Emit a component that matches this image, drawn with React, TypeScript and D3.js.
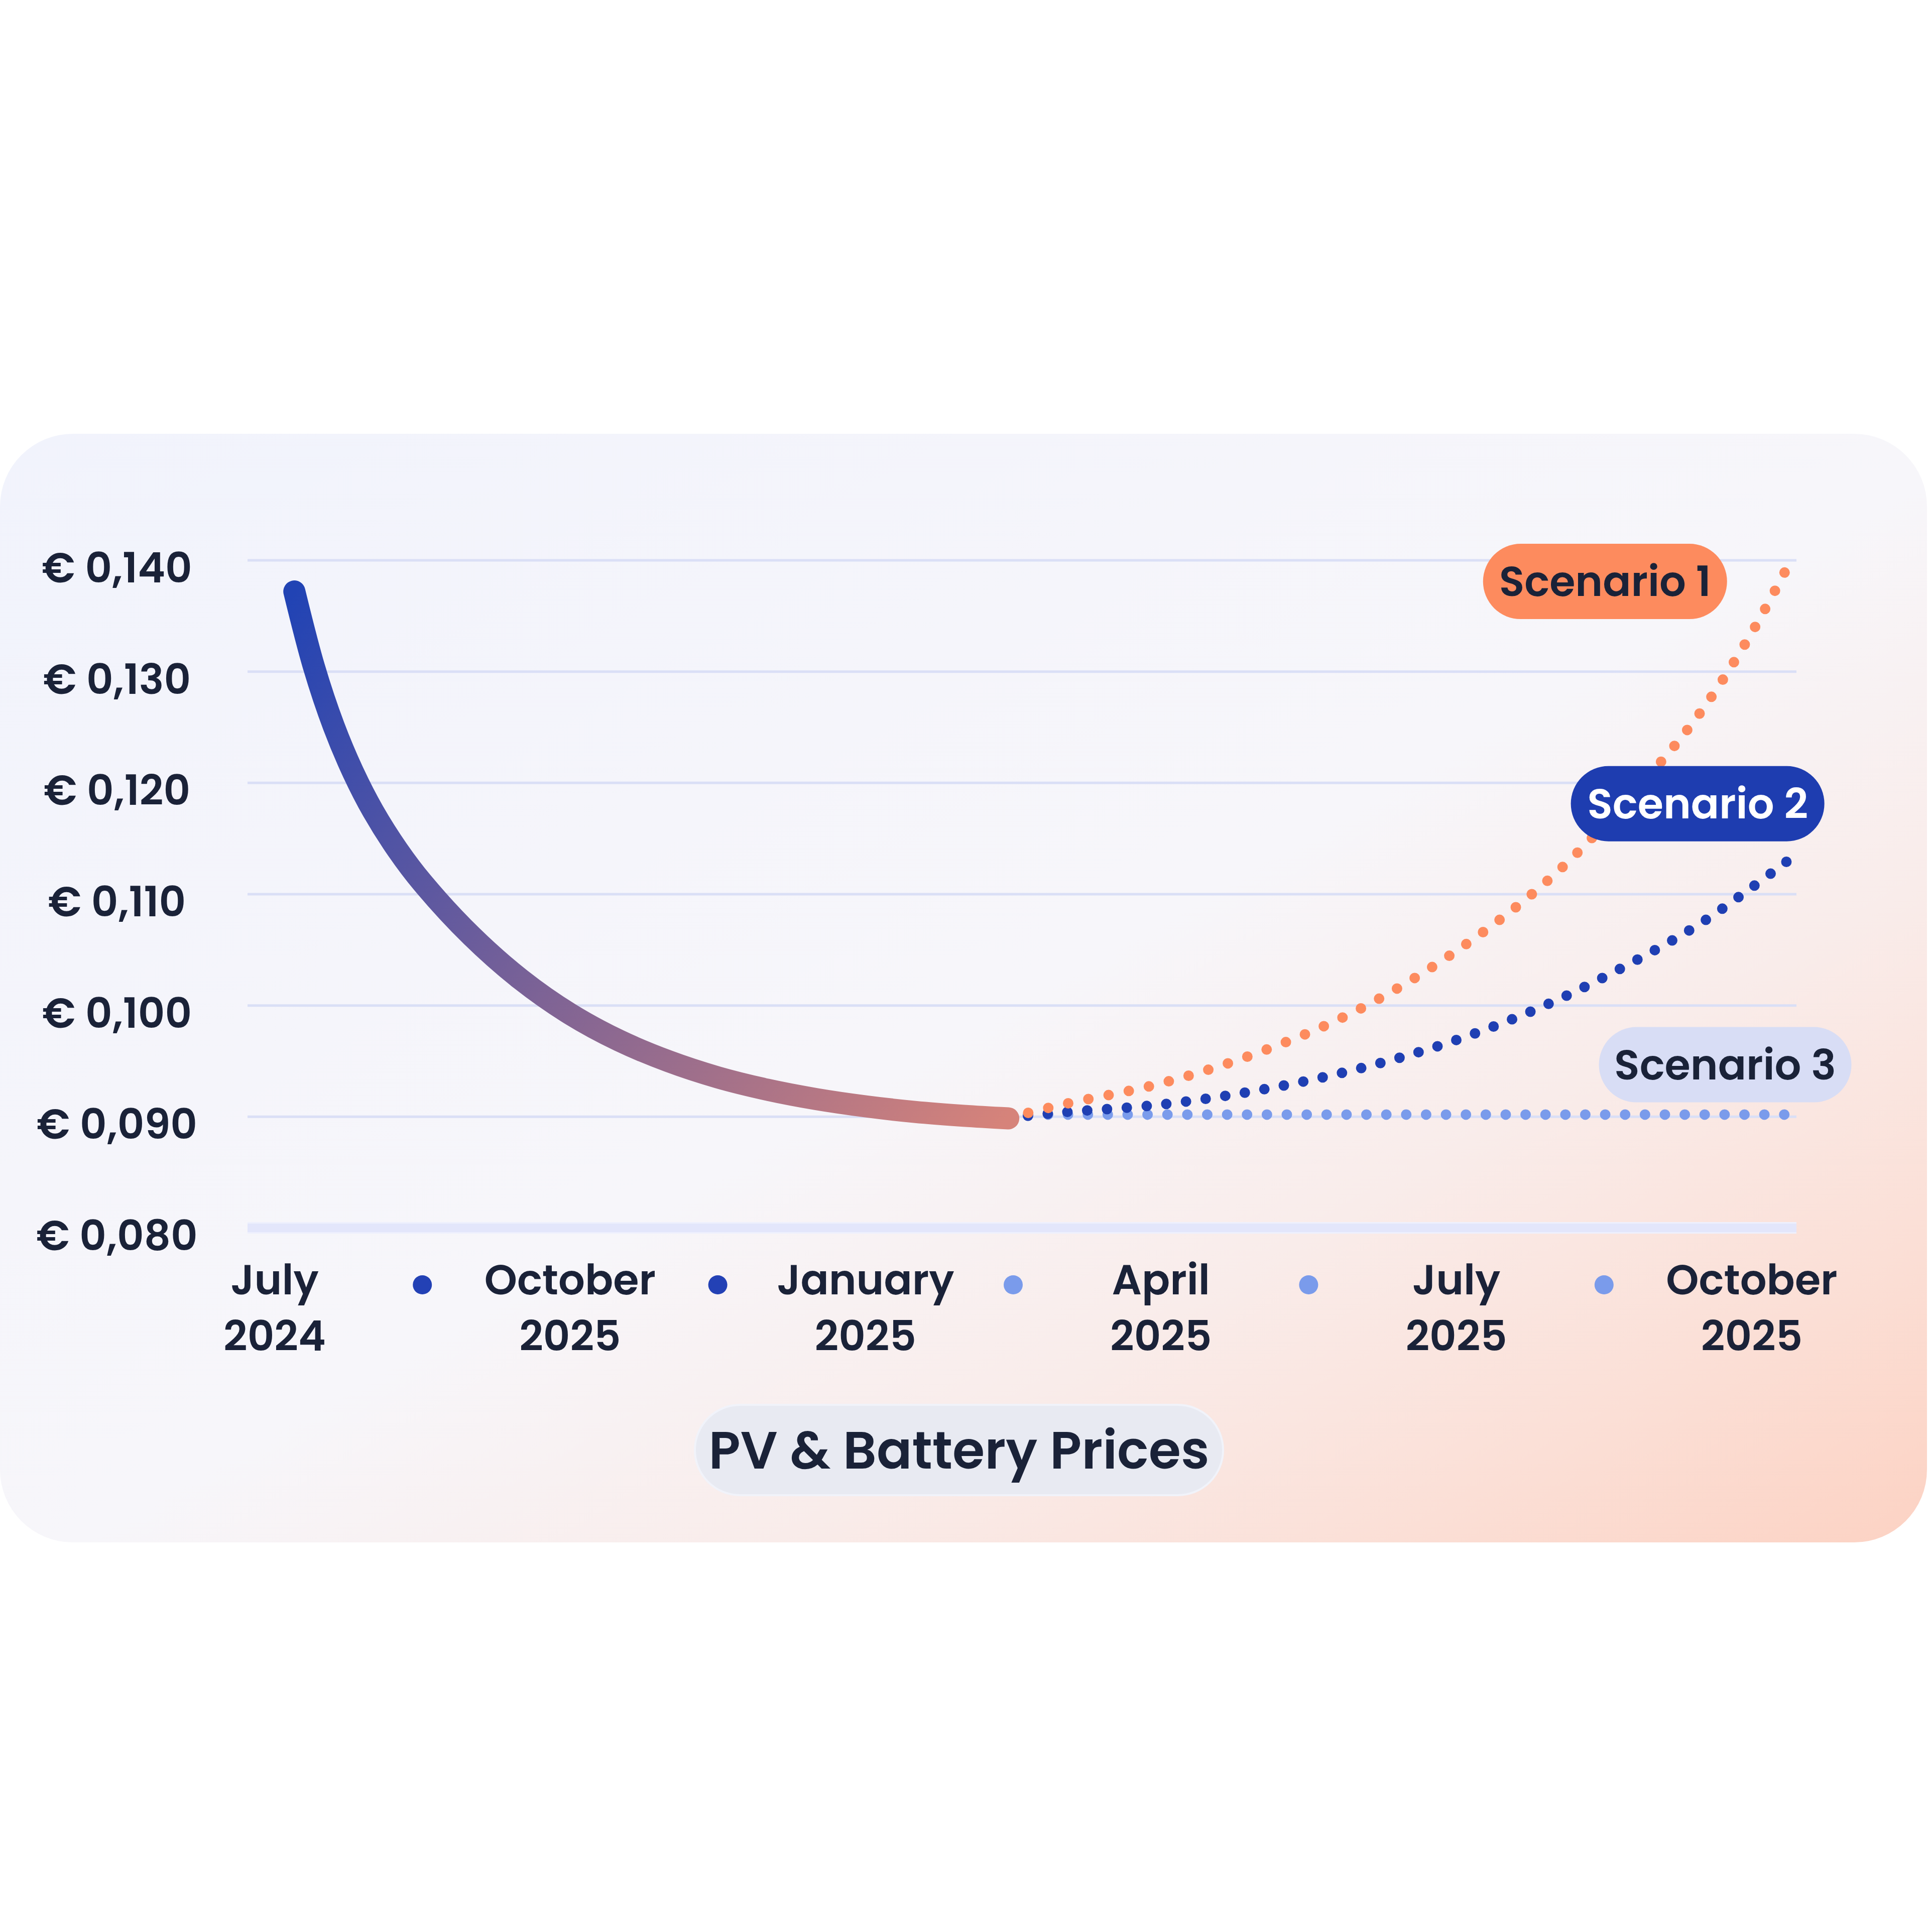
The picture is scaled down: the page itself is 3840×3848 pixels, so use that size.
import React from 'react';
import * as d3 from 'd3';

// ---------- data ----------
const yTickValues = [0.08, 0.09, 0.1, 0.11, 0.12, 0.13, 0.14];
const yTickLabels = ['€ 0,080', '€ 0,090', '€ 0,100', '€ 0,110', '€ 0,120', '€ 0,130', '€ 0,140'];

// months since July 2024
const xTickMonths = [0, 1.5, 3, 4.5, 6, 7.5, 9, 10.5, 12, 13.5, 15];
const xTickLine1 = ['July', '', 'October', '', 'January', '', 'April', '', 'July', '', 'October'];
const xTickLine2 = ['2024', '', '2025', '', '2025', '', '2025', '', '2025', '', '2025'];

const historyMonths = [0.2, 0.4, 0.6, 0.8, 1, 1.25, 1.5, 2, 2.5, 3, 3.5, 4, 4.5, 5, 5.5, 6, 6.5, 7, 7.45];
const historyPrice = [
  0.1372, 0.1304, 0.1251, 0.1209, 0.11746, 0.11396, 0.11104, 0.10624, 0.10234, 0.09924,
  0.09684, 0.09499, 0.09354, 0.09244, 0.09159, 0.09094, 0.09044, 0.09009, 0.08986,
];

const scenarioMonths = [7.45, 8, 9, 10, 11, 12, 13, 14, 14.5, 15, 15.38];
const scenario1 = [0.0899, 0.0911, 0.093, 0.0958, 0.0996, 0.1049, 0.1118, 0.1211, 0.1266, 0.1335, 0.1397];
const scenario2 = [0.0899, 0.0904, 0.0911, 0.0924, 0.0943, 0.0969, 0.1004, 0.1049, 0.1075, 0.1106, 0.1131];
const scenario3Months = [7.45, 15.33];
const scenario3 = [0.0902, 0.0902];

const scenarioNames = ['Scenario 1', 'Scenario 2', 'Scenario 3'];
// label anchor (month, price) for each scenario tag
const scenarioLabelMonths = [13.51, 14.45, 14.73];
const scenarioLabelPrices = [0.1381, 0.11813, 0.09468];

const title = 'PV & Battery Prices';

// ---------- styles ----------
const FONT = "Poppins, 'Open Sans', sans-serif";
const TEXT = '#1A2238';
const ORANGE = '#FD8B5E';
const BLUE = '#1F3FB3';
const LIGHT = '#7A9BEB';

export default function App() {
  const W = 3840;
  const H = 3848;

  const x = d3.scaleLinear().domain([0, 15]).range([547, 3489]);
  const y = d3.scaleLinear().domain([0.08, 0.14]).range([2446, 1116]);
  const gridX0 = 493;
  const gridX1 = 3578;

  const line = d3
    .line<[number, number]>()
    .x((d) => x(d[0]))
    .y((d) => y(d[1]))
    .curve(d3.curveCatmullRom.alpha(0.5));

  const hist: [number, number][] = historyMonths.map((m, i) => [m, historyPrice[i]]);
  const s1: [number, number][] = scenarioMonths.map((m, i) => [m, scenario1[i]]);
  const s2: [number, number][] = scenarioMonths.map((m, i) => [m, scenario2[i]]);
  const s3: [number, number][] = scenario3Months.map((m, i) => [m, scenario3[i]]);

  const histStart = hist[0];
  const histEnd = hist[hist.length - 1];
  const historyEndMonth = histEnd[0];

  // flat scenario: spread dots evenly so one lands on each end
  const s3Len = x(scenario3Months[1]) - x(scenario3Months[0]);
  const s3Gap = s3Len / Math.round(s3Len / 40);

  const pillStyles = [
    { fill: ORANGE, color: TEXT, w: 486 },
    { fill: '#1E3DB0', color: '#FFFFFF', w: 505 },
    { fill: '#D8DDF5', color: TEXT, w: 503 },
  ];

  return (
    <svg
      width={W}
      height={H}
      viewBox={`0 0 ${W} ${H}`}
      style={{ position: 'absolute', left: 0, top: 0, display: 'block' }}
      xmlns="http://www.w3.org/2000/svg"
    >
      <defs>
        <linearGradient id="cardBg" x1="0" y1="0" x2="1" y2="1">
          <stop offset="0" stopColor="#F1F3FC" />
          <stop offset="0.52" stopColor="#F7F6FA" />
          <stop offset="0.7" stopColor="#F9ECEA" />
          <stop offset="0.86" stopColor="#FBDFD6" />
          <stop offset="1" stopColor="#FCD2C3" />
        </linearGradient>
        <linearGradient
          id="histGrad"
          gradientUnits="userSpaceOnUse"
          x1={x(histStart[0])}
          y1={y(histStart[1])}
          x2={x(histEnd[0])}
          y2={y(histEnd[1])}
        >
          <stop offset="0" stopColor="#2143B4" />
          <stop offset="0.5" stopColor="#7E6395" />
          <stop offset="1" stopColor="#D6837A" />
        </linearGradient>
      </defs>

      <rect x={0} y={0} width={W} height={H} fill="#FFFFFF" />
      <rect x={0} y={864} width={3838} height={2208} rx={145} ry={145} fill="url(#cardBg)" />

      {/* grid lines */}
      {yTickValues.map((v, i) =>
        i === 0 ? (
          <g key={v}>
            <rect x={gridX0} y={y(v) - 12} width={gridX1 - gridX0} height={23} fill="#EEF0FD" />
            <rect x={gridX0} y={y(v) - 9} width={gridX1 - gridX0} height={17} fill="#E3E6FB" />
          </g>
        ) : (
          <line key={v} x1={gridX0} x2={gridX1} y1={y(v)} y2={y(v)} stroke="#DADFF6" strokeWidth={5} />
        )
      )}

      {/* y labels */}
      {yTickValues.map((v, i) => (
        <text
          key={'yl' + v}
          x={233}
          y={y(v) + 44}
          textAnchor="middle"
          fontFamily={FONT}
          fontWeight={600}
          fontSize={83}
          fill={TEXT}
        >
          {yTickLabels[i]}
        </text>
      ))}

      {/* scenario lines */}
      <path d={line(s3) || ''} fill="none" stroke={LIGHT} strokeWidth={21} strokeLinecap="round" strokeDasharray={`0 ${s3Gap}`} />
      <path d={line(s2) || ''} fill="none" stroke={BLUE} strokeWidth={21} strokeLinecap="round" strokeDasharray="0 39.5" />
      <path d={line(s1) || ''} fill="none" stroke={ORANGE} strokeWidth={21} strokeLinecap="round" strokeDasharray="0 41" />

      {/* history line */}
      <path d={line(hist) || ''} fill="none" stroke="url(#histGrad)" strokeWidth={44} strokeLinecap="round" />

      {/* scenario tags */}
      {scenarioNames.map((name, i) => {
        const cx = x(scenarioLabelMonths[i]);
        const cy = y(scenarioLabelPrices[i]);
        const st = pillStyles[i];
        return (
          <g key={name}>
            <rect x={cx - st.w / 2} y={cy - 75} width={st.w} height={150} rx={75} ry={75} fill={st.fill} />
            <text
              x={cx}
              y={cy + 29}
              textAnchor="middle"
              fontFamily={FONT}
              fontWeight={600}
              fontSize={83}
              fill={st.color}
            >
              {name}
            </text>
          </g>
        );
      })}

      {/* x axis labels and dots */}
      {xTickMonths.map((m, i) =>
        xTickLine1[i] ? (
          <g key={'xt' + i}>
            <text x={x(m)} y={2578} textAnchor="middle" fontFamily={FONT} fontWeight={600} fontSize={83} fill={TEXT}>
              {xTickLine1[i]}
            </text>
            <text x={x(m)} y={2690} textAnchor="middle" fontFamily={FONT} fontWeight={600} fontSize={83} fill={TEXT}>
              {xTickLine2[i]}
            </text>
          </g>
        ) : (
          <circle key={'xd' + i} cx={x(m)} cy={2559} r={19} fill={m < historyEndMonth ? '#2341B5' : LIGHT} />
        )
      )}

      {/* title pill */}
      <g>
        <rect x={1384} y={2798} width={1052} height={180} rx={90} ry={90} fill="#E8EAF2" stroke="#F1F3FA" strokeWidth={4} />
        <text x={1910} y={2925} textAnchor="middle" fontFamily={FONT} fontWeight={600} fontSize={104} fill={TEXT}>
          {title}
        </text>
      </g>
    </svg>
  );
}
